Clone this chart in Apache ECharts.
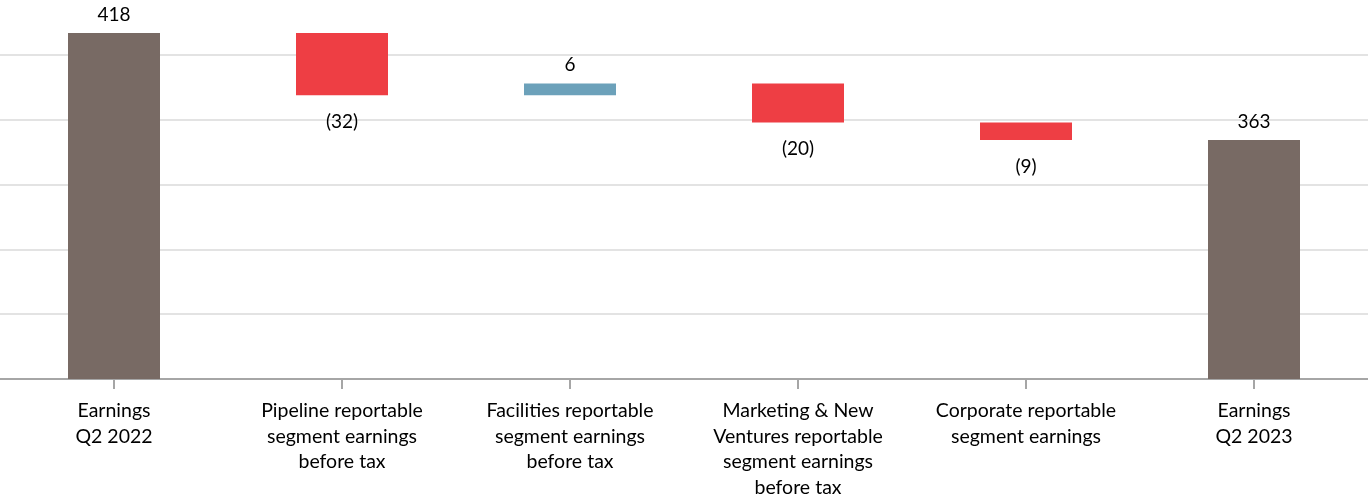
<!DOCTYPE html>
<html>
<head>
<meta charset="utf-8">
<script src="https://cdn.jsdelivr.net/npm/echarts@6/dist/echarts.min.js"></script>
<style>
html,body{margin:0;padding:0;background:#fff;}
#chart{width:1368px;height:500px;}
</style>
</head>
<body>
<div id="chart"></div>
<script>
const categories = [
  "Earnings\nQ2 2022",
  "Pipeline reportable\nsegment earnings\nbefore tax",
  "Facilities reportable\nsegment earnings\nbefore tax",
  "Marketing & New\nVentures reportable\nsegment earnings\nbefore tax",
  "Corporate reportable\nsegment earnings",
  "Earnings\nQ2 2023"
];
const startValue = 418;
const changes = [-32, 6, -20, -9];
const endValue = 363;
const axisMin = 240;
const axisMax = 435;
const axisInterval = 100 / 3;

const COLOR_TOTAL = '#786A64';
const COLOR_DOWN = '#EE3E44';
const COLOR_UP = '#6CA1BA';

// build waterfall helper data
const baseData = [0];
const barData = [];
let running = startValue;
barData.push({value: startValue, kind: 'total', raw: startValue});
changes.forEach(function (c) {
  const next = running + c;
  baseData.push(Math.min(running, next));
  barData.push({value: Math.abs(c), kind: c < 0 ? 'down' : 'up', raw: c});
  running = next;
});
baseData.push(0);
barData.push({value: endValue, kind: 'total', raw: endValue});

const fmt = function (v) { return v < 0 ? '(' + Math.abs(v) + ')' : String(v); };
const labelFont = {fontFamily: 'Lato', fontSize: 19, color: '#000'};

const seriesData = barData.map(function (d) {
  const color = d.kind === 'total' ? COLOR_TOTAL : (d.kind === 'down' ? COLOR_DOWN : COLOR_UP);
  return {
    value: d.value,
    itemStyle: {color: color},
    label: Object.assign({
      show: true,
      position: d.kind === 'down' ? 'bottom' : 'top',
      distance: d.kind === 'down' ? 17 : 9,
      formatter: fmt(d.raw)
    }, labelFont)
  };
});

const chart = echarts.init(document.getElementById('chart'));
chart.setOption({
  animation: false,
  grid: {left: 0, right: 0, top: 0, bottom: 116, containLabel: false},
  xAxis: {
    type: 'category',
    data: categories,
    axisLine: {show: true, lineStyle: {color: '#a6a6a6', width: 2}},
    axisTick: {show: true, alignWithLabel: true, length: 10, lineStyle: {color: '#a6a6a6', width: 2}},
    axisLabel: {
      interval: 0,
      margin: 19,
      fontFamily: 'Lato',
      fontSize: 19.5,
      lineHeight: 25.5,
      color: '#000',
      align: 'center'
    }
  },
  yAxis: {
    type: 'value',
    min: axisMin,
    max: axisMax,
    interval: axisInterval,
    axisLine: {show: false},
    axisTick: {show: false},
    axisLabel: {show: false},
    splitLine: {show: true, showMaxLine: false, lineStyle: {color: '#e3e3e3', width: 2}}
  },
  series: [
    {
      type: 'bar',
      stack: 'wf',
      data: baseData,
      barWidth: 92,
      itemStyle: {color: 'transparent'},
      emphasis: {disabled: true},
      silent: true
    },
    {
      type: 'bar',
      stack: 'wf',
      data: seriesData,
      barWidth: 92
    }
  ]
});
</script>
</body>
</html>
